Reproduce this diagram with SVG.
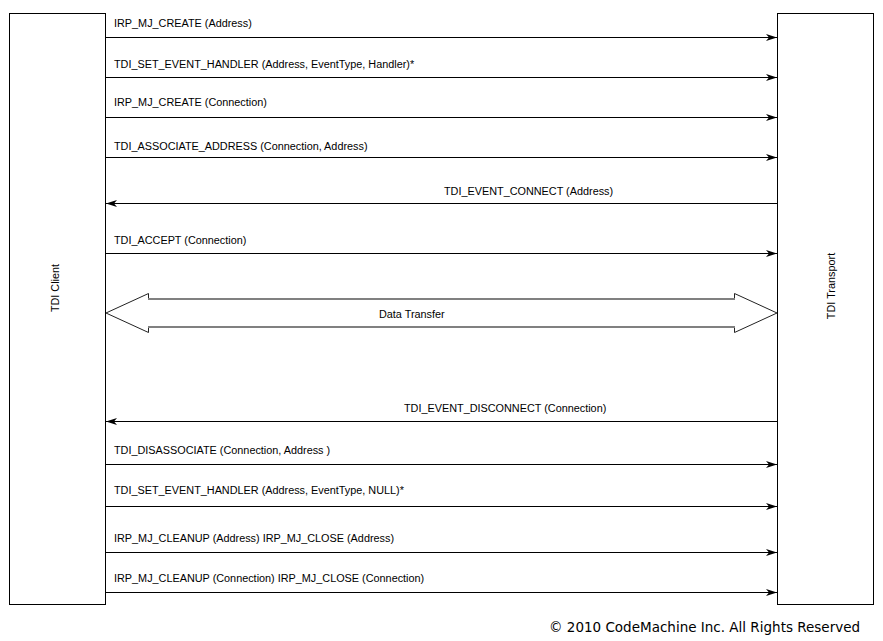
<svg xmlns="http://www.w3.org/2000/svg" width="883" height="641" viewBox="0 0 883 641">
<style>
.box{fill:#fff;stroke:#000;stroke-width:1}
.msg{stroke:#000;stroke-width:1;fill:none;marker-end:url(#ah)}
.lbl{font-family:"Liberation Sans",Arial,sans-serif;font-size:10.85px;fill:#000}
.copy{font-family:"DejaVu Sans",Verdana,sans-serif;font-size:13.5px;fill:#000}
</style>
<defs>
<marker id="ah" markerUnits="userSpaceOnUse" viewBox="-12 -5 13 10" markerWidth="13" markerHeight="10" refX="0" refY="0" orient="auto">
<path d="M0,0 L-11,-3.5 L-8,0 L-11,3.5 Z" fill="#000"/>
</marker>
</defs>
<rect width="883" height="641" fill="#fff"/>
<g id="tdi-client">
<rect class="box" x="9.5" y="13.5" width="96" height="591"/>
<text class="lbl" transform="translate(59,288) rotate(-90)" text-anchor="middle">TDI Client</text>
</g>
<g id="tdi-transport">
<rect class="box" x="777.5" y="13.5" width="96" height="591"/>
<text class="lbl" transform="translate(835,286) rotate(-90)" text-anchor="middle">TDI Transport</text>
</g>
<g id="connectors">
<line class="msg" x1="106" y1="37.5" x2="777" y2="37.5"/>
<line class="msg" x1="106" y1="77.5" x2="777" y2="77.5"/>
<line class="msg" x1="106" y1="117.5" x2="777" y2="117.5"/>
<line class="msg" x1="106" y1="157.5" x2="777" y2="157.5"/>
<line class="msg" x1="777" y1="203.5" x2="106" y2="203.5"/>
<line class="msg" x1="106" y1="253.5" x2="777" y2="253.5"/>
<line class="msg" x1="777" y1="421.5" x2="106" y2="421.5"/>
<line class="msg" x1="106" y1="464.5" x2="777" y2="464.5"/>
<line class="msg" x1="106" y1="506.5" x2="777" y2="506.5"/>
<line class="msg" x1="106" y1="552.5" x2="777" y2="552.5"/>
<line class="msg" x1="106" y1="592.5" x2="777" y2="592.5"/>
<g id="data-transfer">
<path d="M148.5,299 L148.5,293.5 L106,313 L148.5,332.5 L148.5,327 M734.5,299 L734.5,293.5 L777,313 L734.5,332.5 L734.5,327" fill="none" stroke="#222" stroke-width="1"/>
<path d="M148,299 H735 M148,327 H735" fill="none" stroke="#808080" stroke-width="2"/>
</g>
</g>
<g id="labels">
<text class="lbl" x="114" y="27">IRP_MJ_CREATE (Address)</text>
<text class="lbl" x="114" y="68">TDI_SET_EVENT_HANDLER (Address, EventType, Handler)*</text>
<text class="lbl" x="114" y="106">IRP_MJ_CREATE (Connection)</text>
<text class="lbl" x="114" y="150">TDI_ASSOCIATE_ADDRESS (Connection, Address)</text>
<text class="lbl" x="444" y="195">TDI_EVENT_CONNECT (Address)</text>
<text class="lbl" x="114" y="244">TDI_ACCEPT (Connection)</text>
<text class="lbl" x="379" y="318">Data Transfer</text>
<text class="lbl" x="404" y="412">TDI_EVENT_DISCONNECT (Connection)</text>
<text class="lbl" x="114" y="454">TDI_DISASSOCIATE (Connection, Address )</text>
<text class="lbl" x="114" y="494">TDI_SET_EVENT_HANDLER (Address, EventType, NULL)*</text>
<text class="lbl" x="114" y="542">IRP_MJ_CLEANUP (Address) IRP_MJ_CLOSE (Address)</text>
<text class="lbl" x="114" y="582">IRP_MJ_CLEANUP (Connection) IRP_MJ_CLOSE  (Connection)</text>
</g>
<text class="copy" x="549" y="632">© 2010 CodeMachine Inc. All Rights Reserved</text>
</svg>
